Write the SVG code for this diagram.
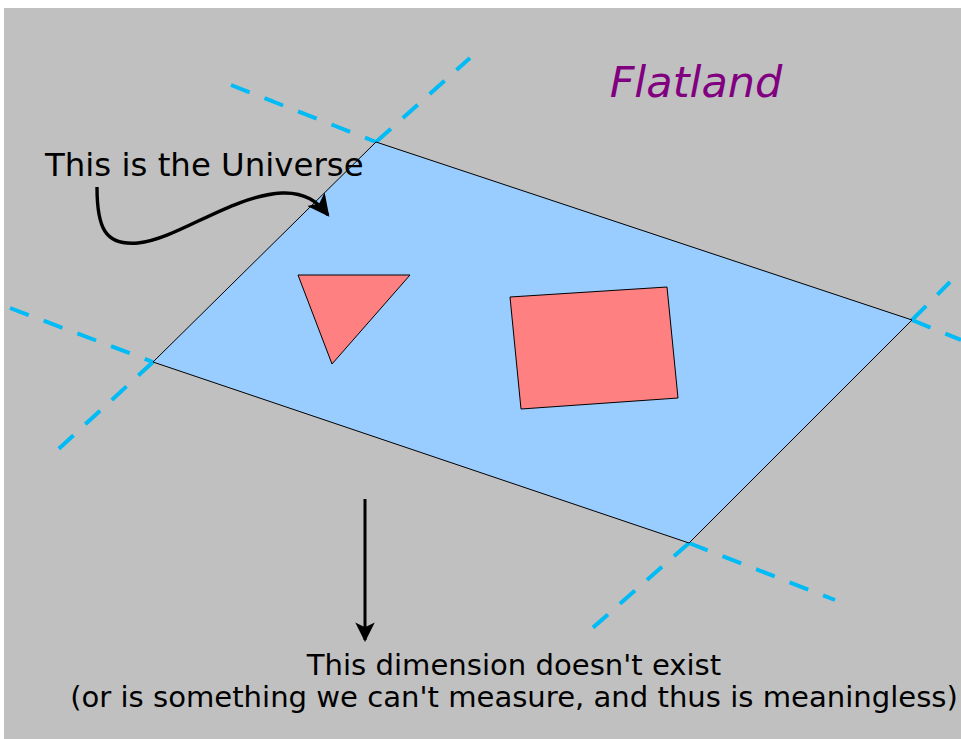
<svg xmlns="http://www.w3.org/2000/svg" width="961" height="739" viewBox="0 0 961 739">
<defs>
<marker id="ah" viewBox="0 0 10 10" refX="9" refY="5" markerWidth="7" markerHeight="6.5" markerUnits="strokeWidth" orient="auto">
<path d="M0,0 L10,5 L0,10 L2.5,5 Z" fill="#000"/>
</marker>
<style>
.dash{stroke:#00bbf5;stroke-width:4;stroke-dasharray:20 16;fill:none}
.shape{stroke:#000;stroke-width:1}
.lbl{font-family:"DejaVu Sans",sans-serif;fill:#000}
.conn{stroke:#000;stroke-width:3;fill:none}
</style>
</defs>
<rect x="4" y="8" width="957" height="731" fill="#c0c0c0"/>
<g id="dashes">
<path class="dash" d="M231,85 L376,142"/>
<path class="dash" d="M376,142 L470,58"/>
<path class="dash" d="M10,308 L153,362"/>
<path class="dash" d="M153,362 L52,455"/>
<path class="dash" d="M912,320 L950,282"/>
<path class="dash" d="M912,320 L961,340"/>
<path class="dash" d="M689,543 L588,632"/>
<path class="dash" d="M689,543 L835,600"/>
</g>
<g id="universe">
<polygon class="shape" points="376,142 912,320 689,543 153,362" fill="#99ccff"/>
</g>
<g id="triangle">
<polygon class="shape" points="298,275 410,275 332,364" fill="#ff8080"/>
</g>
<g id="square">
<polygon class="shape" points="510,297 667,287 678,398 521,409" fill="#ff8080"/>
</g>
<g id="flatland">
<text x="696" y="97" font-family="DejaVu Sans, sans-serif" font-style="italic" font-size="43" fill="#800080" text-anchor="middle">Flatland</text>
</g>
<g id="universe-label">
<text class="lbl" x="45" y="176" font-size="32.4">This is the Universe</text>
</g>
<g id="dimension-label">
<text class="lbl" x="514" y="675" font-size="29.1" text-anchor="middle">This dimension doesn't exist</text>
<text class="lbl" x="514" y="707" font-size="29.1" text-anchor="middle">(or is something we can't measure, and thus is meaningless)</text>
</g>
<g id="connectors">
<path class="conn" d="M97,187 C97,228 105,246 138,243 C178,239 230,196 282,193 C305,192 318,202 328,215" marker-end="url(#ah)" style="stroke-width:3.4"/>
<path class="conn" d="M365,499 L365,640" marker-end="url(#ah)"/>
</g>
</svg>
